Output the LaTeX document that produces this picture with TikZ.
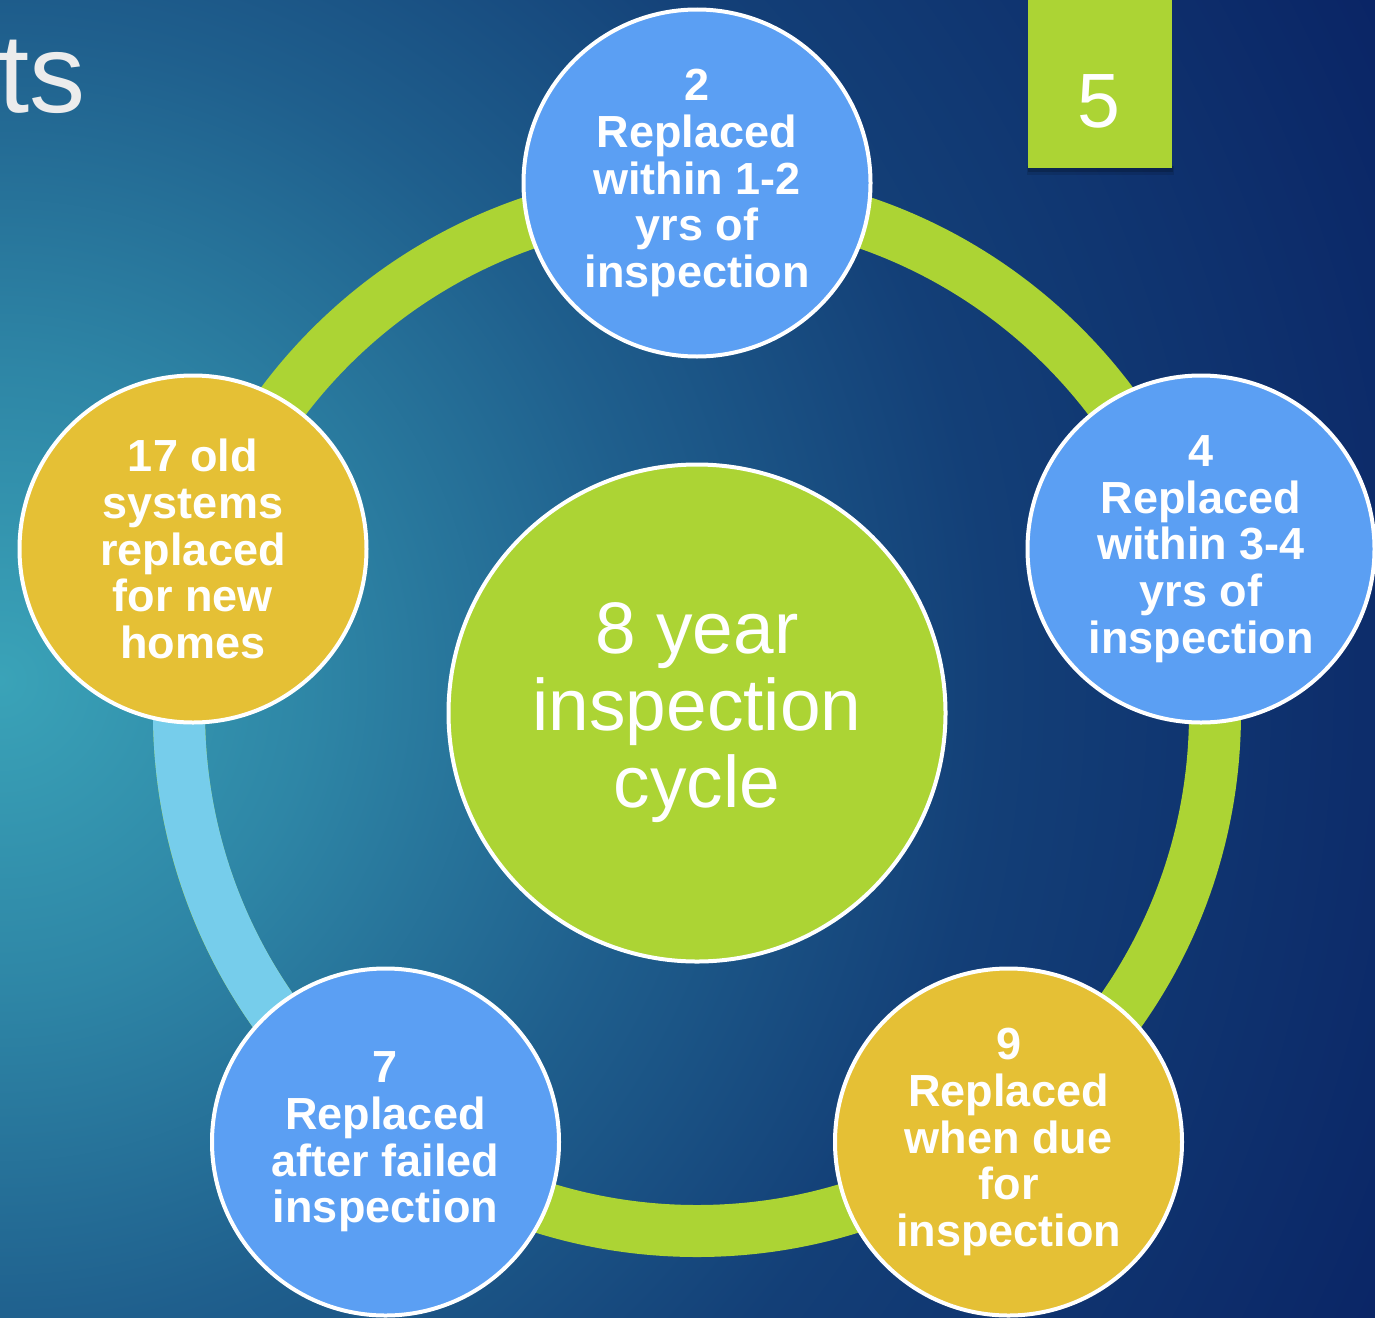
\documentclass[tikz,border=0pt]{standalone}
\usepackage{fontspec}
\setmainfont{Liberation Sans}
\usetikzlibrary{calc}
\definecolor{bg0}{HTML}{3AA3B8}
\definecolor{bg1}{HTML}{2E86A6}
\definecolor{bg2}{HTML}{1F5F8D}
\definecolor{bg3}{HTML}{133F77}
\definecolor{bg4}{HTML}{0A2465}
\definecolor{cblue}{HTML}{5B9FF3}
\definecolor{cyellow}{HTML}{E5C035}
\definecolor{cgreen}{HTML}{ACD434}
\definecolor{clight}{HTML}{76CDEB}
\definecolor{tsgray}{HTML}{ECECEC}
\pgfdeclareradialshading{bgshade}{\pgfpoint{0bp}{0bp}}{color(0bp)=(bg0); color(5bp)=(bg1); color(10.5bp)=(bg2); color(16bp)=(bg3); color(25bp)=(bg4); color(50bp)=(bg4)}
\tikzset{
  smallcirc/.style={circle, draw=white, line width=4pt, minimum size=347pt, inner sep=0pt,
    text=white, align=center, font=\bfseries\fontsize{45}{46.75}\selectfont},
  bigcirc/.style={circle, draw=white, line width=4pt, minimum size=497pt, inner sep=0pt,
    fill=cgreen, text=white, align=center, font=\fontsize{73}{77}\selectfont},
  ringline/.style={line width=52pt}
}
\begin{document}
\begin{tikzpicture}[x=1pt,y=-1pt]
\useasboundingbox (0,0) rectangle (1375,1317);
\begin{scope}
\clip (0,0) rectangle (1375,1317);
\path[shading=bgshade] (-1550,-870) rectangle (1550,2230);
\end{scope}
% title fragment
\node[anchor=base east, inner sep=0pt, text=tsgray, font=\fontsize{112}{112}\selectfont] (title) at (86,112) {ts};
% page number box with soft shadow
\fill[black, opacity=0.12] (1027,166) rectangle (1174,175);
\fill[black, opacity=0.18] (1028,166) rectangle (1173,172);
\node[anchor=north west, fill=cgreen, minimum width=144pt, minimum height=168pt, inner sep=0pt] (pgbox) at (1028,0) {};
\node[anchor=base, inner sep=0pt, text=white, font=\fontsize{77}{77}\selectfont] (pgnum) at (1099,127) {5};
% ring
\coordinate (c) at (697,713);
\draw[ringline, cgreen] (c) circle[radius=518];
\draw[ringline, clight] ([shift={(126:518)}]c) arc[start angle=126, end angle=198, radius=518];
% nodes
\node[bigcirc] (center) at (c) {8 year\\inspection\\cycle};
\node[smallcirc, fill=cblue] (n2) at (697,183) {2\\Replaced\\within 1-2\\yrs of\\inspection};
\node[smallcirc, fill=cblue] (n4) at (1201,549) {4\\Replaced\\within 3-4\\yrs of\\inspection};
\node[smallcirc, fill=cyellow] (n9) at (1008.5,1142) {9\\Replaced\\when due\\for\\inspection};
\node[smallcirc, fill=cblue] (n7) at (385.5,1142) {7\\Replaced\\after failed\\inspection};
\node[smallcirc, fill=cyellow] (n17) at (193,549) {17 old\\systems\\replaced\\for new\\homes};
\end{tikzpicture}
\end{document}
